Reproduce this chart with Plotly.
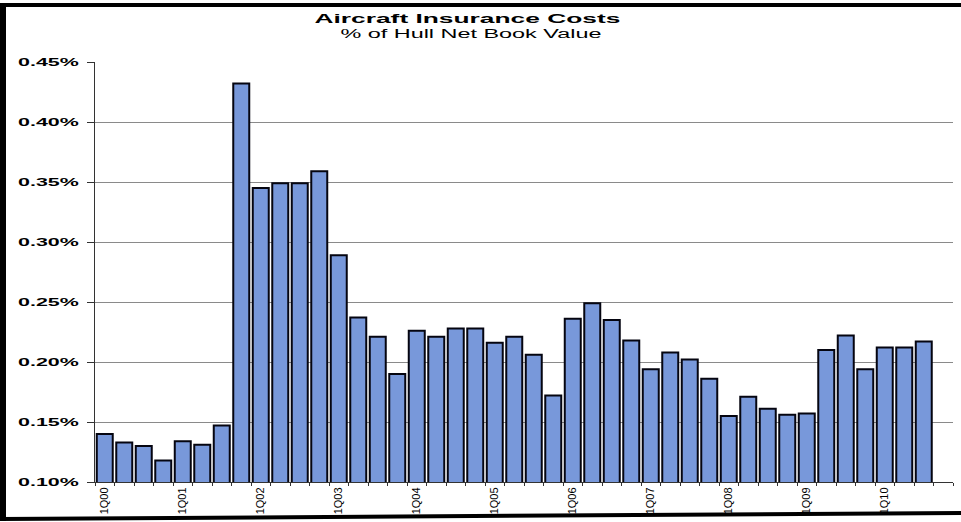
import plotly.graph_objects as go

# Quarterly categories (1Q00 .. 4Q10); only the 1Q of each year is labelled
years = [f"{y:02d}" for y in range(0, 11)]
quarters = [f"{q}Q{y}" for y in years for q in range(1, 5)]
tick_labels = [q if q.startswith("1Q") else "" for q in quarters]

# Insurance cost as % of hull net book value, 1Q00 .. 3Q10
cost_pct = [
    0.140, 0.133, 0.130, 0.118, 0.134, 0.131, 0.147, 0.432,
    0.345, 0.349, 0.349, 0.359, 0.289, 0.237, 0.221, 0.190,
    0.226, 0.221, 0.228, 0.228, 0.216, 0.221, 0.206, 0.172,
    0.236, 0.249, 0.235, 0.218, 0.194, 0.208, 0.202, 0.186,
    0.155, 0.171, 0.161, 0.156, 0.157, 0.210, 0.222, 0.194,
    0.212, 0.212, 0.217,
]

y_ticks = [0.10, 0.15, 0.20, 0.25, 0.30, 0.35, 0.40, 0.45]
y_tick_text = [f"{v:.2f}%" for v in y_ticks]

title_text = "Aircraft Insurance Costs"
subtitle_text = "% of Hull Net Book Value"

W, H = 961, 522
ML, MR, MT, MB = 95, 8, 62, 40
PW, PH = W - ML - MR, H - MT - MB


def px(x):
    return (x - ML) / PW


def py(y):
    return (H - MB - y) / PH


fig = go.Figure()
fig.add_trace(go.Bar(
    x=quarters[:len(cost_pct)],
    y=cost_pct,
    marker=dict(color="#7898da", line=dict(color="#050510", width=2)),
    width=0.82,
    hoverinfo="x+y",
))

axis_font = dict(family="Liberation Sans, Arial, sans-serif", color="#000000")

fig.update_layout(
    width=W, height=H,
    margin=dict(l=ML, r=MR, t=MT, b=MB),
    paper_bgcolor="white",
    plot_bgcolor="white",
    showlegend=False,
    bargap=0.18,
    xaxis=dict(
        type="category",
        categoryorder="array",
        categoryarray=quarters,
        range=[-0.5, len(quarters) - 0.5],
        tickmode="array",
        tickvals=quarters,
        ticktext=tick_labels,
        tickangle=-90,
        tickson="boundaries",
        ticks="outside",
        ticklen=3,
        tickcolor="#333333",
        showgrid=False,
        showline=True,
        linecolor="#333333",
        linewidth=1,
        tickfont=dict(size=11, **axis_font),
        fixedrange=True,
    ),
    yaxis=dict(
        range=[0.10, 0.45],
        tickmode="array",
        tickvals=y_ticks,
        ticktext=y_tick_text,
        ticks="outside",
        ticklen=7,
        tickcolor="#333333",
        ticklabelstandoff=6,
        showgrid=True,
        gridcolor="#8a8a8a",
        gridwidth=1,
        showline=True,
        linecolor="#333333",
        linewidth=1,
        zeroline=False,
        tickfont=dict(size=11, weight="bold", **axis_font),
        fixedrange=True,
    ),
    annotations=[
        dict(text=title_text, xref="paper", yref="paper", x=px(467), y=py(19),
             xanchor="center", yanchor="middle", showarrow=False, borderpad=0,
             font=dict(size=13.5, weight="bold", **axis_font)),
        dict(text=subtitle_text, xref="paper", yref="paper", x=px(471), y=py(34),
             xanchor="center", yanchor="middle", showarrow=False, borderpad=0,
             font=dict(size=12, **axis_font)),
    ],
    shapes=[
        # frame: top, left and bottom black edges
        dict(type="rect", xref="paper", yref="paper", x0=px(0), x1=px(W), y0=py(3), y1=py(7),
             fillcolor="black", line=dict(width=0), layer="above"),
        dict(type="rect", xref="paper", yref="paper", x0=px(0), x1=px(6), y0=py(3), y1=py(521),
             fillcolor="black", line=dict(width=0), layer="above"),
        dict(type="path", xref="paper", yref="paper",
             path=(f"M {px(0)} {py(517)} L {px(W)} {py(511)} "
                   f"L {px(W)} {py(515)} L {px(0)} {py(521)} Z"),
             fillcolor="black", line=dict(width=0), layer="below"),
    ],
)

# Widen the title and y-axis label glyphs horizontally
stretch_js = """
var gd = document.getElementById('{plot_id}');
gd.querySelectorAll('.ytick text, text.annotation-text').forEach(function(t){
    var w = t.getComputedTextLength();
    if (w > 0) {
        t.setAttribute('textLength', (w * 1.95).toFixed(1));
        t.setAttribute('lengthAdjust', 'spacingAndGlyphs');
    }
});
"""

fig.write_html("out.html", config={"displayModeBar": False}, post_script=stretch_js)
